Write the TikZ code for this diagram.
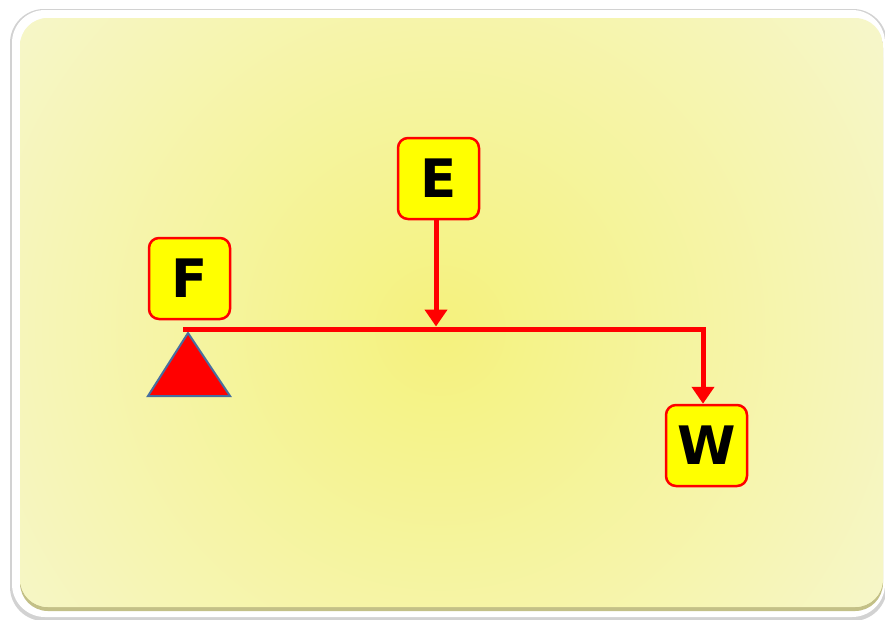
\documentclass[tikz,border=0pt]{standalone}
\usepackage{fontspec}
\setmainfont{DejaVu Sans}
\usetikzlibrary{arrows.meta}
\definecolor{boxyellow}{RGB}{255,255,0}
\definecolor{leverred}{RGB}{255,0,0}
\definecolor{edgeblue}{RGB}{70,110,160}
\definecolor{panelin}{RGB}{245,242,125}
\definecolor{panelout}{RGB}{246,246,200}
\definecolor{shadowgray}{RGB}{210,210,210}
\definecolor{bevel}{RGB}{195,192,135}
\tikzset{
  lbl/.style={draw=leverred, line width=2.5pt, fill=boxyellow, rounded corners=10pt,
    minimum width=81pt, minimum height=81pt, inner sep=0pt,
    font=\fontsize{53}{53}\selectfont\bfseries, text=black},
  lever/.style={draw=leverred, line width=5pt},
  force/.style={draw=leverred, line width=5pt, -{Triangle[length=17pt,width=22pt]}},
  fulcrum/.style={fill=leverred, draw=edgeblue, line width=2pt, line join=miter}
}
\begin{document}
\begin{tikzpicture}[x=1pt,y=-1pt]
\useasboundingbox (0,0) rectangle (885,619);
\fill[white] (0,0) rectangle (885,619);
% frame shadow and white border
\fill[shadowgray, rounded corners=34pt] (10,9) rectangle (887,621);
\fill[white, rounded corners=33pt] (12,10) rectangle (885,617);
% bevel edge at bottom
\fill[bevel, rounded corners=28pt] (20,20) rectangle (883,611);
% panel
\begin{scope}
  \clip[rounded corners=28pt] (20,18) rectangle (883,607);
  \fill[panelout] (20,18) rectangle (883,607);
  \shade[inner color=panelin, outer color=panelout] (440,330) circle (520);
\end{scope}
% nodes
\node[lbl] (F) at (189.5,278.5) {F};
\node[lbl] (E) at (438.5,178.5) {E};
\node[lbl] (W) at (706.5,445.5) {W};
% fulcrum
\coordinate (apex) at (188,333);
\draw[fulcrum] (148,396) -- (apex) -- (230,396) -- cycle;
% lever
\coordinate (L) at (183,329);
\coordinate (R) at (703,329);
\draw[lever] (L) -- (R) -- ([yshift=2.5pt]R);
\draw[force] ([yshift=-2.5pt]R) -- (R |- W.north);
\draw[force] (E.south -| 436,0) -- (436,326.5);
\end{tikzpicture}
\end{document}
